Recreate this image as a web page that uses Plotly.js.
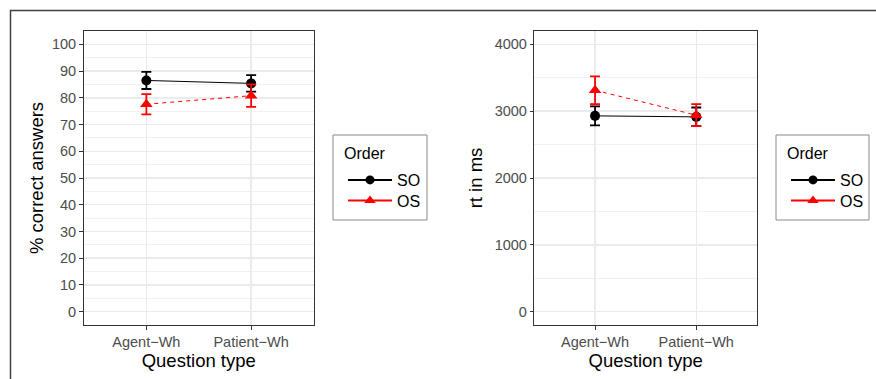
<!DOCTYPE html>
<html><head><meta charset="utf-8">
<script src="https://cdn.plot.ly/plotly-3.0.1.min.js"></script>
<style>html,body{margin:0;padding:0;background:#fff}#chart{width:876px;height:379px}</style>
</head><body><div id="chart"></div>
<script>
// ---- data ----
const questionTypes = ['Agent\u2212Wh', 'Patient\u2212Wh'];
const orderNames = ['SO', 'OS'];
const accSO = [86.5, 85.4];
const accSOErr = [3.2, 3.1];
const accOS = [77.6, 80.8];
const accOSErr = [3.8, 4.2];
const rtSO = [2930, 2915];
const rtSOErr = [143, 140];
const rtOS = [3313, 2940];
const rtOSErr = [209, 165];
const accTicks = [0, 10, 20, 30, 40, 50, 60, 70, 80, 90, 100];
const rtTicks = [0, 1000, 2000, 3000, 4000];
const legendTitle = 'Order';

const FONT = 'Liberation Sans, Arial, Helvetica, sans-serif';
const W = 876, H = 379;
const px = v => v / W, py = v => 1 - v / H;
const COLORS = ['#000000', '#FF0000'];
const SYMBOLS = ['circle', 'triangle-up'];
const DASHES = ['solid', '4px,4px'];

function series(k, y, err, xa, ya) {
  return {
    x: questionTypes, y: y, name: orderNames[k], xaxis: xa, yaxis: ya, showlegend: false,
    type: 'scatter', mode: 'lines+markers',
    line: {color: COLORS[k], width: 1, dash: DASHES[k]},
    marker: {color: COLORS[k], symbol: SYMBOLS[k], size: k === 0 ? 10 : 11},
    error_y: {type: 'data', array: err, visible: true, color: COLORS[k], thickness: 1.8, width: 5}
  };
}
// legend keys (solid lines, as in the reference legend); they hold no data
function key(k, xa, ya, leg) {
  return {
    x: [null], y: [null], name: orderNames[k], xaxis: xa, yaxis: ya, legend: leg, showlegend: true,
    type: 'scatter', mode: 'lines+markers',
    line: {color: COLORS[k], width: 2},
    marker: {color: COLORS[k], symbol: SYMBOLS[k], size: k === 0 ? 9 : 10}
  };
}

const traces = [
  series(0, accSO, accSOErr, 'x', 'y'),
  series(1, accOS, accOSErr, 'x', 'y'),
  series(0, rtSO, rtSOErr, 'x2', 'y2'),
  series(1, rtOS, rtOSErr, 'x2', 'y2'),
  key(0, 'x', 'y', 'legend'),
  key(1, 'x', 'y', 'legend3'),
  key(0, 'x2', 'y2', 'legend2'),
  key(1, 'x2', 'y2', 'legend4')
];

const yBase = {
  showgrid: true, gridcolor: '#EBEBEB', gridwidth: 1.4, zeroline: false,
  showline: true, mirror: true, linecolor: '#333333', linewidth: 1,
  ticks: 'outside', ticklen: 3.5, tickwidth: 1, tickcolor: '#333333',
  tickfont: {family: FONT, size: 14.5, color: '#4D4D4D'},
  domain: [py(325), py(31)], fixedrange: true
};
const xBase = {
  type: 'category', range: [-0.6, 1.6],
  showgrid: true, gridcolor: '#EBEBEB', gridwidth: 1.4, zeroline: false,
  showline: true, mirror: true, linecolor: '#333333', linewidth: 1,
  ticks: 'outside', ticklen: 3.5, tickwidth: 1, tickcolor: '#333333',
  tickfont: {family: FONT, size: 14.5, color: '#4D4D4D'},
  title: {text: 'Question type', font: {family: FONT, size: 18.5, color: '#000'}, standoff: 2},
  fixedrange: true
};
const legBase = {
  xanchor: 'left', yanchor: 'middle', bgcolor: 'rgba(0,0,0,0)', borderwidth: 0,
  font: {family: FONT, size: 16, color: '#000'},
  itemwidth: 44, tracegroupgap: 0
};
const boxes = [[333, 427], [776, 869]];

const layout = {
  width: W, height: H, margin: {l: 0, r: 0, t: 0, b: 0},
  paper_bgcolor: '#FFFFFF', plot_bgcolor: '#FFFFFF',
  font: {family: FONT},
  xaxis: Object.assign({}, xBase, {domain: [px(83.5), px(314)], anchor: 'y'}),
  xaxis2: Object.assign({}, xBase, {domain: [px(534.3), px(757)], anchor: 'y2'}),
  yaxis: Object.assign({}, yBase, {
    anchor: 'x', range: [-5, 105], tickvals: accTicks,
    minor: {dtick: 5, tick0: 0, showgrid: true, gridcolor: '#EBEBEB', gridwidth: 0.7, ticks: ''},
    title: {text: '% correct answers', font: {family: FONT, size: 18.5, color: '#000'}, standoff: 3}
  }),
  yaxis2: Object.assign({}, yBase, {
    anchor: 'x2', range: [-200, 4200], tickvals: rtTicks,
    minor: {dtick: 500, tick0: 0, showgrid: true, gridcolor: '#EBEBEB', gridwidth: 0.7, ticks: ''},
    title: {text: 'rt in ms', font: {family: FONT, size: 18.5, color: '#000'}, standoff: 7}
  }),
  legend: Object.assign({}, legBase, {x: px(boxes[0][0] + 10), y: py(180)}),
  legend3: Object.assign({}, legBase, {x: px(boxes[0][0] + 10), y: py(200.7)}),
  legend2: Object.assign({}, legBase, {x: px(boxes[1][0] + 10), y: py(180)}),
  legend4: Object.assign({}, legBase, {x: px(boxes[1][0] + 10), y: py(200.7)}),
  annotations: boxes.map(b => ({
    text: legendTitle, xref: 'paper', yref: 'paper', x: px(b[0] + 9), y: py(153),
    xanchor: 'left', yanchor: 'middle', showarrow: false,
    font: {family: FONT, size: 16, color: '#000'}
  })),
  shapes: [{
    type: 'rect', xref: 'paper', yref: 'paper',
    x0: px(10.5), x1: 1.2, y0: -0.2, y1: py(10.5),
    line: {color: '#404040', width: 1.5}, fillcolor: 'rgba(0,0,0,0)', layer: 'below'
  }].concat(boxes.map(b => ({
    type: 'rect', xref: 'paper', yref: 'paper',
    x0: px(b[0]), x1: px(b[1]), y0: py(220), y1: py(135),
    line: {color: '#8A8A8A', width: 1}, fillcolor: '#FFFFFF', layer: 'below'
  }))),
  showlegend: true
};

Plotly.newPlot('chart', traces, layout, {staticPlot: true, displayModeBar: false});
</script>
</body></html>
